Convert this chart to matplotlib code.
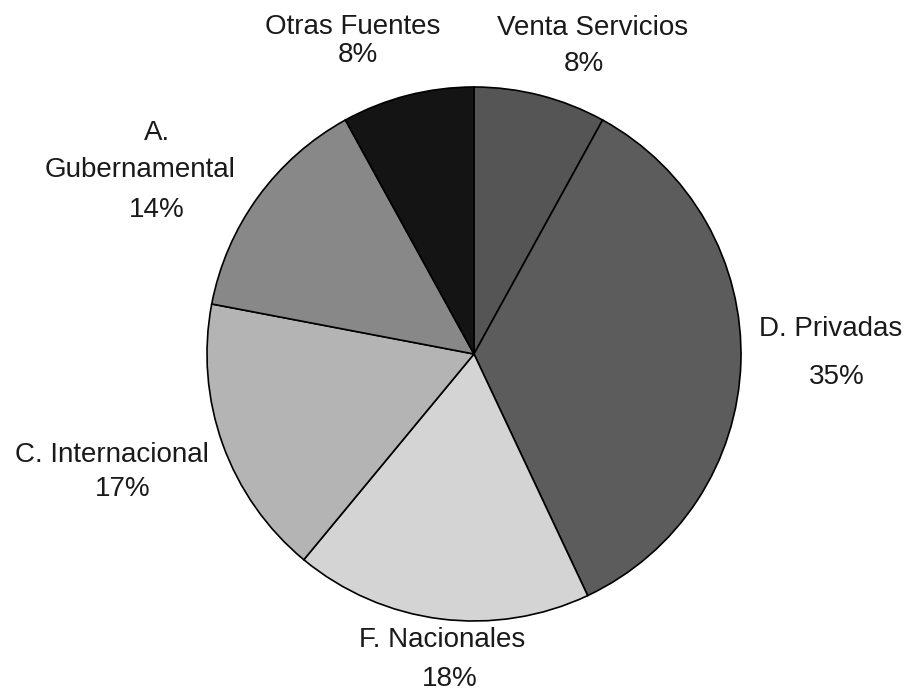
import matplotlib
matplotlib.use("Agg")
import matplotlib.pyplot as plt

plt.rcParams["font.family"] = ["Liberation Sans", "DejaVu Sans"]

categories = ["Venta Servicios", "D. Privadas", "F. Nacionales",
              "C. Internacional", "A.\nGubernamental", "Otras Fuentes"]
values = [8, 35, 18, 17, 14, 8]
colors = ["#555555", "#5c5c5c", "#d4d4d4", "#b4b4b4", "#888888", "#141414"]

# label placement in pixels: one (x, y) per text line, then the percent
label_px = [[(593, 28)], [(831, 329)], [(442, 640)], [(112, 455)],
            [(157, 133), (140, 170)], [(353, 27)]]
pct_px = [(584, 64), (837, 377), (450, 679), (123, 489), (157, 210), (358, 55)]

fig = plt.figure(figsize=(9.06, 6.91), dpi=100)
cx, cy, r = 474, 354, 267
ax = fig.add_axes([(cx - r) / 906, (691 - cy - r) / 691, 2 * r / 906, 2 * r / 691])

ax.pie(values, colors=colors, startangle=90, counterclock=False, radius=1,
       wedgeprops=dict(edgecolor="black", linewidth=1.2))
ax.set_xlim(-1, 1)
ax.set_ylim(-1, 1)
ax.set_aspect("equal")
ax.axis("off")

def to_data(p):
    return (p[0] - cx) / r, (cy - p[1]) / r

fs = 20
for name, v, lps, pp in zip(categories, values, label_px, pct_px):
    for line, lp in zip(name.split("\n"), lps):
        x, y = to_data(lp)
        ax.text(x, y, line, ha="center", va="center", fontsize=fs,
                color="#1a1a1a", clip_on=False)
    x, y = to_data(pp)
    ax.text(x, y, f"{v}%", ha="center", va="center", fontsize=fs,
            color="#1a1a1a", clip_on=False)

fig.savefig("out.png", dpi=100, facecolor="white")
